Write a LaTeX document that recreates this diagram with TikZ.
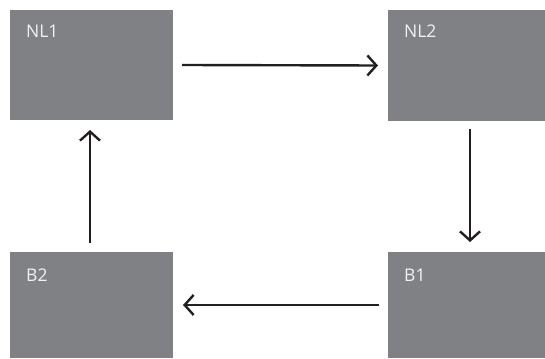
\documentclass[tikz,border=0pt]{standalone}
\usepackage{fontspec}
\setmainfont{Open Sans}
\usetikzlibrary{arrows.meta}
\definecolor{boxgray}{RGB}{128,129,133}
\definecolor{arrowdark}{RGB}{35,31,32}
\definecolor{lblwhite}{RGB}{242,242,242}
\begin{document}
\begin{tikzpicture}[x=1pt,y=-1pt,
  box/.style={fill=boxgray, draw=none, inner sep=0pt, outer sep=0pt},
  lbl/.style={text=lblwhite, font=\fontsize{17.5}{20}\selectfont, inner sep=0pt, anchor=base west},
  arr/.style={draw=arrowdark, line width=2.4pt, -{Straight Barb[length=9pt,width=20pt,line width=2.4pt]}}]
\useasboundingbox (0,0) rectangle (545,358);
\node[box, minimum width=163pt, minimum height=110pt] (NL1) at (91.5,65) {};
\node[box, minimum width=157pt, minimum height=111pt] (NL2) at (466.5,65.5) {};
\node[box, minimum width=163pt, minimum height=106pt] (B2) at (91.5,305) {};
\node[box, minimum width=157pt, minimum height=106pt] (B1) at (466.5,305) {};
\node[lbl] (tNL1) at (26,38) {NL1};
\node[lbl] (tNL2) at (404,38) {NL2};
\node[lbl] (tB2) at (26,281) {B2};
\node[lbl] (tB1) at (404,281) {B1};
\draw[arr] ([xshift=9pt]NL1.east) -- ([xshift=-10pt]NL2.west);
\draw[arr] ([shift={(3.5,8)}]NL2.south) -- ([shift={(3.5,-10)}]B1.north);
\draw[arr] ([xshift=-9pt]B1.west) -- ([xshift=10pt]B2.east);
\draw[arr] ([shift={(-1.5,-9)}]B2.north) -- ([shift={(-1.5,10)}]NL1.south);
\end{tikzpicture}
\end{document}
